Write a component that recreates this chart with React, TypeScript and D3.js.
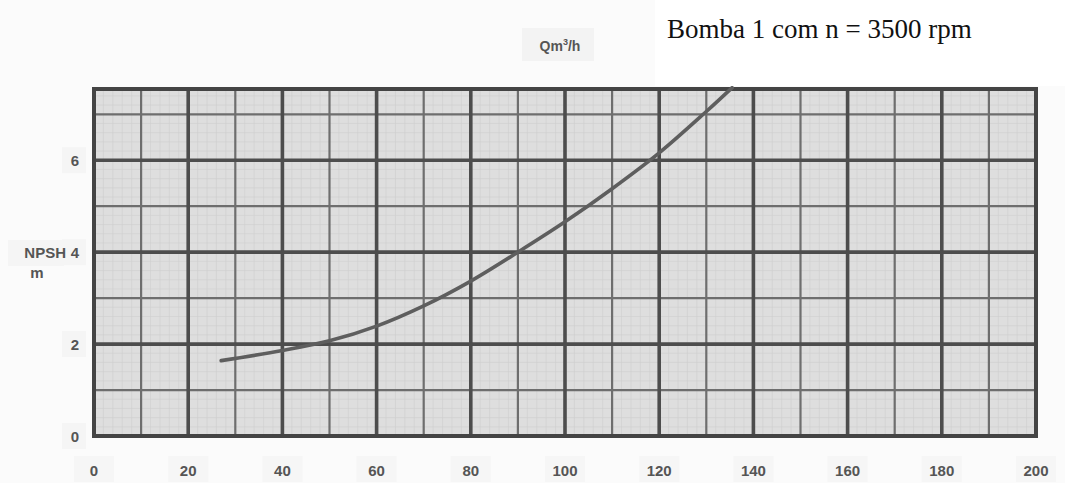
import React from "react";
import * as d3 from "d3";

const flowQ = [27, 40, 50, 60, 70, 80, 90, 100, 110, 120, 130, 135.5];
const npshH = [1.64, 1.86, 2.07, 2.39, 2.83, 3.37, 4.0, 4.66, 5.38, 6.16, 7.06, 7.58];
const xTicks = [0, 20, 40, 60, 80, 100, 120, 140, 160, 180, 200];
const yTicks = [0, 2, 4, 6];

const W = 1065;
const H = 483;
const left = 94, right = 1036, top = 89, bottom = 436;

export default function App() {
  const x = d3.scaleLinear().domain([0, 200]).range([left, right]);
  const y = d3.scaleLinear().domain([0, 7.55]).range([bottom, top]);

  const fineX = d3.range(0, 200.001, 2);
  const fineY = d3.range(0, 7.55, 0.2);
  const thinX = d3.range(10, 200, 20);
  const thinY = d3.range(1, 7.6, 2);
  const thickX = d3.range(20, 200, 20);
  const thickY = [2, 4, 6];

  const pts = flowQ.map((q, i) => [q, npshH[i]] as [number, number]);
  const line = d3
    .line<[number, number]>()
    .x((d) => x(d[0]))
    .y((d) => y(d[1]))
    .curve(d3.curveCatmullRom);

  const labelFont = "'Liberation Sans', Arial, sans-serif";
  const labelColor = "#555";

  return (
    <div style={{ position: "absolute", left: 0, top: 0 }}>
      <svg width={W} height={H} style={{ display: "block", background: "#fbfbfb" }}>
        {/* plot background */}
        <rect x={left} y={top} width={right - left} height={bottom - top} fill="#dedede" />
        {/* fine grid */}
        {fineX.map((v) => (
          <line key={"fx" + v} x1={x(v)} x2={x(v)} y1={top} y2={bottom} stroke="#cecece" strokeWidth={0.6} />
        ))}
        {fineY.map((v) => (
          <line key={"fy" + v} x1={left} x2={right} y1={y(v)} y2={y(v)} stroke="#cecece" strokeWidth={0.6} />
        ))}
        {/* thin grid */}
        {thinX.map((v) => (
          <line key={"tx" + v} x1={x(v)} x2={x(v)} y1={top} y2={bottom} stroke="#6e6e6e" strokeWidth={2.2} />
        ))}
        {thinY.map((v) => (
          <line key={"ty" + v} x1={left} x2={right} y1={y(v)} y2={y(v)} stroke="#6e6e6e" strokeWidth={2.2} />
        ))}
        {/* thick grid */}
        {thickX.map((v) => (
          <line key={"kx" + v} x1={x(v)} x2={x(v)} y1={top} y2={bottom} stroke="#4d4d4d" strokeWidth={3.6} />
        ))}
        {thickY.map((v) => (
          <line key={"ky" + v} x1={left} x2={right} y1={y(v)} y2={y(v)} stroke="#4d4d4d" strokeWidth={3.6} />
        ))}
        {/* border */}
        <rect x={left} y={top} width={right - left} height={bottom - top} fill="none" stroke="#444" strokeWidth={4} />

        {/* curve */}
        <path d={line(pts) || ""} fill="none" stroke="#5e5e5e" strokeWidth={3.6} strokeLinecap="round" />

        {/* x tick labels */}
        {xTicks.map((v) => (
          <g key={"xl" + v}>
            <rect x={x(v) - 20} y={456} width={40} height={26} fill="#f6f6f6" />
            <text
              x={x(v)}
              y={476}
              textAnchor="middle"
              fontFamily={labelFont}
              fontWeight="bold"
              fontSize={15}
              fill={labelColor}
            >
              {v}
            </text>
          </g>
        ))}

        {/* y tick labels */}
        {yTicks.map((v) => (
          <g key={"yl" + v}>
            <rect x={62} y={y(v) - 13} width={24} height={26} fill="#f5f5f5" />
            <text
              x={79}
              y={y(v) + 6}
              textAnchor="end"
              fontFamily={labelFont}
              fontWeight="bold"
              fontSize={15}
              fill={labelColor}
            >
              {v}
            </text>
          </g>
        ))}
        <rect x={8} y={240} width={56} height={26} fill="#f5f5f5" />
        <text x={66} y={y(4) + 6} textAnchor="end" fontFamily={labelFont} fontWeight="bold" fontSize={15} fill={labelColor}>
          NPSH
        </text>
        <text x={37} y={278} textAnchor="middle" fontFamily={labelFont} fontWeight="bold" fontSize={15} fill={labelColor}>
          m
        </text>

        {/* axis title */}
        <rect x={522} y={28} width={72} height={33} fill="#f3f3f3" />
        <text x={560} y={51} textAnchor="middle" fontFamily={labelFont} fontWeight="bold" fontSize={14} fill={labelColor}>
          Qm<tspan dy={-6} fontSize={9}>3</tspan>
          <tspan dy={6}>/h</tspan>
        </text>

        {/* title */}
        <rect x={655} y={0} width={410} height={86} fill="#ffffff" />
        <text x={667} y={38} fontFamily="'Liberation Serif', 'Times New Roman', serif" fontSize={27} fill="#111">
          Bomba 1 com n = 3500 rpm
        </text>
      </svg>
    </div>
  );
}
